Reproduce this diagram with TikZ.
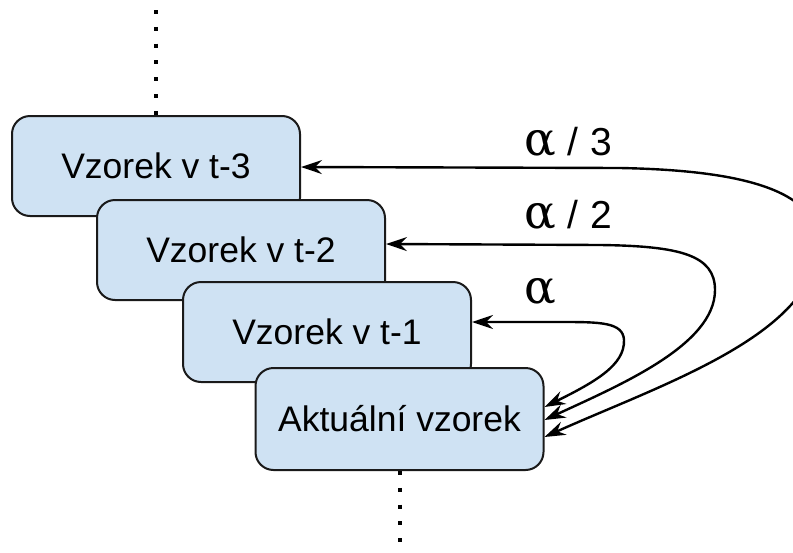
\documentclass[tikz,border=0pt]{standalone}
\usepackage{fontspec}
\setmainfont{Liberation Sans}
\newfontfamily\alphafont{DejaVu Serif}
\usetikzlibrary{arrows.meta}
\definecolor{boxfill}{HTML}{CFE2F3}
\definecolor{boxline}{HTML}{1A1A1A}
\tikzset{
  sample/.style={draw=boxline, fill=boxfill, line width=2pt, rounded corners=18pt,
    minimum width=288pt, minimum height=100pt, inner sep=0pt,
    font=\fontsize{35.5}{40}\selectfont},
  conn/.style={line width=2.4pt, {Stealth[length=21pt,width=14pt,inset=7pt]}-{Stealth[length=21pt,width=14pt,inset=7pt]}},
  dotline/.style={line width=4pt, dash pattern=on 4pt off 12.8pt},
  weight/.style={anchor=base west, inner sep=0pt, font=\fontsize{39}{44}\selectfont}
}
\newcommand{\alphasym}{{\alphafont\fontsize{47}{50}\selectfont α}}
\begin{document}
\begin{tikzpicture}[x=1pt,y=-1pt]
  \useasboundingbox (0,0) rectangle (793,552);
  \clip (0,0) rectangle (793,552);

  % stacked samples, oldest at the back
  \node[sample] (b1) at (156,166) {Vzorek v t-3};
  \node[sample] (b2) at (241,250) {Vzorek v t-2};
  \node[sample] (b3) at (327,332) {Vzorek v t-1};
  \node[sample, minimum height=102pt] (b4) at (399.5,419) {Aktuální vzorek};

  % continuation of the sequence
  \coordinate (top) at (156,10);
  \coordinate (bottom) at (399.5,545);
  \draw[dotline] (top) -- (b1.north);
  \draw[dotline] (b4.south) -- (bottom);

  % weighted links from the current sample
  \draw[conn] ([yshift=12pt]b4.east) .. controls (595,382) and (625,365) .. (624,340)
    .. controls (623,322) and (600,322) .. (560,322) -- ([yshift=10pt]b3.east);
  \draw[conn] ([yshift=-1pt]b4.east) .. controls (620,385) and (715,345) .. (715,290)
    .. controls (715,255) and (680,246) .. (600,245) -- ([yshift=6pt]b2.east);
  \draw[conn] ([yshift=-18pt]b4.east) .. controls (660,385) and (815,335) .. (818,245)
    .. controls (820,185) and (725,170) .. (620,168) -- ([yshift=-1pt]b1.east);

  % weights
  \node[weight] (w3) at (524,155) {\alphasym\hspace{12pt}/\hspace{12pt}3};
  \node[weight] (w2) at (524,228) {\alphasym\hspace{12pt}/\hspace{12pt}2};
  \node[weight] (w1) at (524,303) {\alphasym};
\end{tikzpicture}
\end{document}
